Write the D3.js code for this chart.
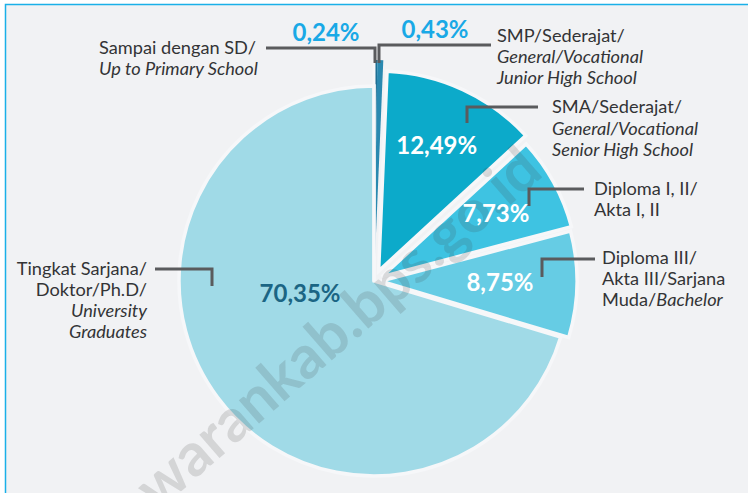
<!DOCTYPE html>
<html>
<head>
<meta charset="utf-8">
<script src="https://cdn.jsdelivr.net/npm/d3@7"></script>
<style>
  html, body { margin: 0; padding: 0; background: #fff; }
  svg { display: block; font-family: Lato, "Open Sans", sans-serif; }
</style>
</head>
<body>
<svg id="chart" width="748" height="493"></svg>
<script>
// education level shares, clockwise from 12 o'clock
const categories = [
  "Sampai dengan SD",
  "SMP/Sederajat",
  "SMA/Sederajat",
  "Diploma I, II",
  "Diploma III",
  "Tingkat Sarjana"
];
const values = [0.24, 0.43, 12.49, 7.73, 8.75, 70.35];

// label lines: [text, italic]
const labelLines = [
  [[["Sampai dengan SD/", 0]], [["Up to Primary School", 1]]],
  [[["SMP/Sederajat/", 0]], [["General/Vocational", 1]], [["Junior High School", 1]]],
  [[["SMA/Sederajat/", 0]], [["General/Vocational", 1]], [["Senior High School", 1]]],
  [[["Diploma I, II/", 0]], [["Akta I, II", 0]]],
  [[["Diploma III/", 0]], [["Akta III/Sarjana", 0]], [["Muda/", 0], ["Bachelor", 1]]],
  [[["Tingkat Sarjana/", 0]], [["Doktor/Ph.D/", 0]], [["University", 1]], [["Graduates", 1]]]
];

const colors = ["#1d6f94", "#2a89b0", "#0caaca", "#3ec3e2", "#66cce4", "#a0dae7"];
const pctColors = ["#19a9e6", "#19a9e6", "#fff", "#fff", "#fff", "#1b6584"];

// layout
const cx = 374, cy = 281;
const radius = [221, 221, 200, 196, 196, 195];
const explode = [0, 0, 11, 9, 7, 0];
const pctPolar = [null, null, [149, 0], [139, 0], [126, 0], [75, 27]];
const pctFixed = [[326, 41], [435, 38]];
const textPos = [
  { x: 99, y: 54, anchor: "start", lh: 21 },
  { x: 497, y: 42, anchor: "start", lh: 21 },
  { x: 552, y: 113, anchor: "start", lh: 21.5 },
  { x: 594, y: 195, anchor: "start", lh: 20.5 },
  { x: 602, y: 264, anchor: "start", lh: 21 },
  { x: 147, y: 275, anchor: "end", lh: 21 }
];
const leaders = [
  [[266, 48], [375, 48], [375, 63]],
  [[491, 45], [379, 45], [379, 63]],
  [[538, 107], [467, 107], [467, 123]],
  [[584, 189], [529, 189], [529, 206]],
  [[595, 259], [542, 259], [542, 277]],
  [[155, 269], [212, 269], [212, 286]]
];

const svg = d3.select("#chart");
const W = 748, H = 493;

// frame
svg.append("rect").attr("x", 5.5).attr("y", 4.5).attr("width", W).attr("height", H)
  .attr("fill", "#f1f2f4").attr("stroke", "#1ab0e8").attr("stroke-width", 1.5);

const locale = d3.formatLocale({ decimal: ",", thousands: ".", grouping: [3] });
const fmt = locale.format(".2f");

const pie = d3.pie().value(d => d).sort(null);
const arcs = pie(values);

const g = svg.append("g").attr("transform", `translate(${cx},${cy})`);

g.selectAll("path.slice").data(arcs).enter()
  .append("path")
  .attr("class", "slice")
  .attr("transform", (d, i) => {
    const a = (d.startAngle + d.endAngle) / 2;
    return `translate(${explode[i] * Math.sin(a)},${-explode[i] * Math.cos(a)})`;
  })
  .attr("d", (d, i) => d3.arc().innerRadius(0).outerRadius(radius[i])(d))
  .attr("fill", (d, i) => colors[i])
  .attr("stroke", (d, i) => i < 2 ? "none" : "#f6f7f9")
  .attr("stroke-width", 3.5)
  .attr("stroke-linejoin", "miter");

// gap at 12 o'clock between big slice and small slices
g.append("line")
  .attr("x1", 0).attr("y1", 0)
  .attr("x2", 0).attr("y2", -radius[0] - 1)
  .attr("stroke", "#f6f7f9").attr("stroke-width", 3);

// watermark
svg.append("text")
  .attr("transform", "translate(545,175) rotate(-41)")
  .attr("text-anchor", "end")
  .attr("font-size", 60)
  .attr("font-weight", 700)
  .attr("fill", "rgba(60,60,60,0.16)")
  .text("pesawarankab.bps.go.id");

// leader lines
const line = d3.line();
svg.selectAll("path.leader").data(leaders).enter()
  .append("path")
  .attr("class", "leader")
  .attr("d", d => line(d))
  .attr("fill", "none")
  .attr("stroke", "#5a5b5d")
  .attr("stroke-width", 3);

// percent labels
arcs.forEach((d, i) => {
  let x, y;
  if (pctPolar[i]) {
    const a = (d.startAngle + d.endAngle) / 2 + pctPolar[i][1] * Math.PI / 180;
    x = cx + pctPolar[i][0] * Math.sin(a);
    y = cy - pctPolar[i][0] * Math.cos(a) + 8;
  } else {
    [x, y] = pctFixed[i];
  }
  svg.append("text")
    .attr("x", x).attr("y", y)
    .attr("text-anchor", "middle")
    .attr("font-size", 24)
    .attr("font-weight", 700)
    .attr("fill", pctColors[i])
    .text(fmt(values[i]) + "%");
});

// category labels
labelLines.forEach((lines, i) => {
  const p = textPos[i];
  const t = svg.append("text")
    .attr("text-anchor", p.anchor)
    .attr("font-size", 18.2)
    .attr("fill", "#333436");
  lines.forEach((parts, j) => {
    parts.forEach((part, k) => {
      const ts = t.append("tspan")
        .attr("font-style", part[1] ? "italic" : "normal")
        .text(part[0]);
      if (k === 0) ts.attr("x", p.x).attr("y", p.y + j * p.lh);
    });
  });
});
</script>
</body>
</html>
